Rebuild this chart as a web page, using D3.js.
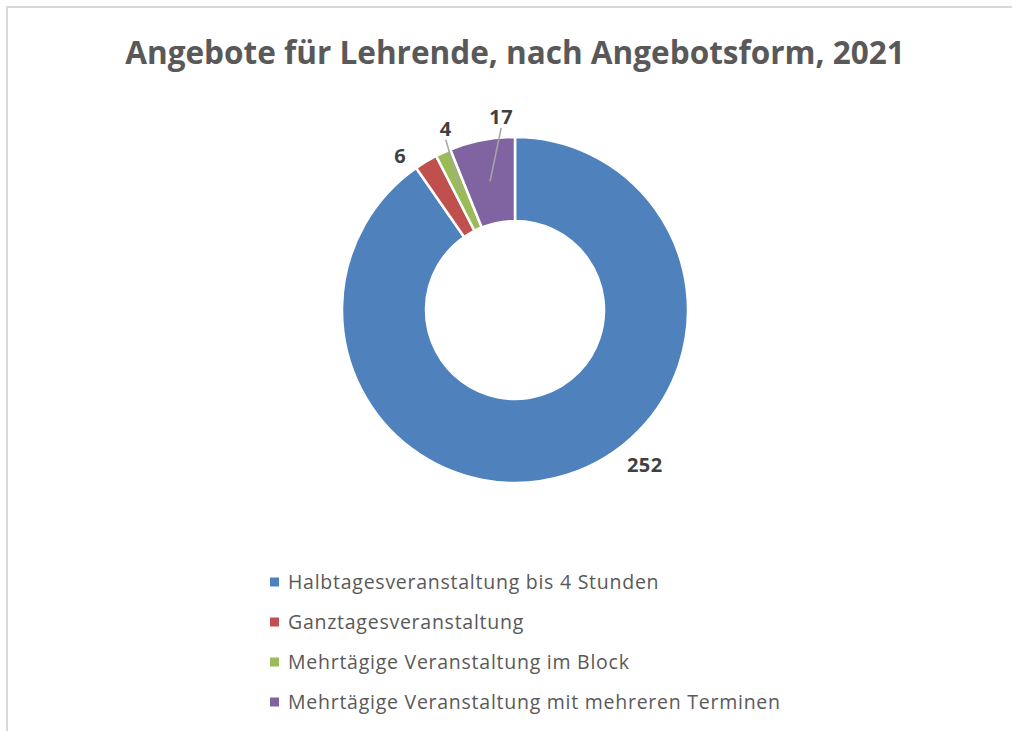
<!DOCTYPE html>
<html><head><meta charset="utf-8">
<script src="https://cdn.jsdelivr.net/npm/d3@7"></script>
<style>html,body{margin:0;padding:0;background:#fff;}svg{display:block;}</style>
</head><body>
<svg id="chart" width="1012" height="731"></svg>
<script>
const title = "Angebote für Lehrende, nach Angebotsform, 2021";
const categories = ["Halbtagesveranstaltung bis 4 Stunden", "Ganztagesveranstaltung", "Mehrtägige Veranstaltung im Block", "Mehrtägige Veranstaltung mit mehreren Terminen"];
const values = [252, 6, 4, 17];
const colors = ["#4F81BD", "#C0504D", "#9BBB59", "#8064A2"];
// label placement: angle (deg, clockwise from top) and radius from centre; leader line flag
const labelAngles = [140, 323.3, 339.1, 355.9];
const labelRadii = [202, 192, 194, 193.5];
const leaders = [false, false, true, true];

const svg = d3.select("#chart");
const W = 1012, H = 731;
// frame
svg.append("rect").attr("x", 7).attr("y", 7).attr("width", W + 10).attr("height", H + 10)
  .attr("fill", "#fff").attr("stroke", "#d9d9d9").attr("stroke-width", 2);

// title
const t = svg.append("text").text(title).attr("x", 515).attr("y", 64)
  .attr("text-anchor", "middle").attr("fill", "#595959")
  .style("font-family", "'Open Sans', sans-serif").style("font-weight", "bold").style("font-size", "30px");
const tw = t.node().getComputedTextLength();
t.style("font-size", (30 * 780 / tw) + "px");

const cx = 515, cy = 310, rOut = 173, rIn = 89;
const g = svg.append("g").attr("transform", `translate(${cx},${cy})`);
const pie = d3.pie().sort(null).value(d => d)(values);
const arc = d3.arc().innerRadius(rIn).outerRadius(rOut);
g.selectAll("path.slice").data(pie).join("path").attr("class", "slice")
  .attr("d", arc).attr("fill", (d, i) => colors[i])
  .attr("stroke", "#fff").attr("stroke-width", 2.5).attr("stroke-linejoin", "miter");

// labels
const rad = a => a * Math.PI / 180;
pie.forEach((d, i) => {
  const a = rad(labelAngles[i]);
  const lx = labelRadii[i] * Math.sin(a), ly = -labelRadii[i] * Math.cos(a);
  g.append("text").text(values[i]).attr("x", lx).attr("y", ly + 7)
    .attr("text-anchor", "middle").attr("fill", "#404040")
    .style("font-family", "'Open Sans', sans-serif").style("font-weight", "bold")
    .style("font-size", "20px").style("letter-spacing", "0.5px");
  if (leaders[i]) {
    const c = arc.centroid(d);
    g.append("line").attr("x1", lx).attr("y1", ly + 11).attr("x2", c[0]).attr("y2", c[1])
      .attr("stroke", "#a6a6a6").attr("stroke-width", 1.5);
  }
});

// legend
const leg = svg.append("g");
const rows = leg.selectAll("g").data(categories).join("g")
  .attr("transform", (d, i) => `translate(270,${582 + i * 40})`);
rows.append("rect").attr("x", 0).attr("y", -4.5).attr("width", 9).attr("height", 9)
  .attr("fill", (d, i) => colors[i]);
const lt = rows.append("text").text(d => d).attr("x", 18).attr("y", 7)
  .attr("fill", "#595959").style("font-family", "'Open Sans', sans-serif").style("font-size", "19.5px");
const longest = lt.nodes()[3];
const lw = longest.getComputedTextLength();
const n = categories[3].length;
const ls = (492 - lw) / (n - 1);
lt.style("letter-spacing", ls + "px");
</script>
</body></html>
